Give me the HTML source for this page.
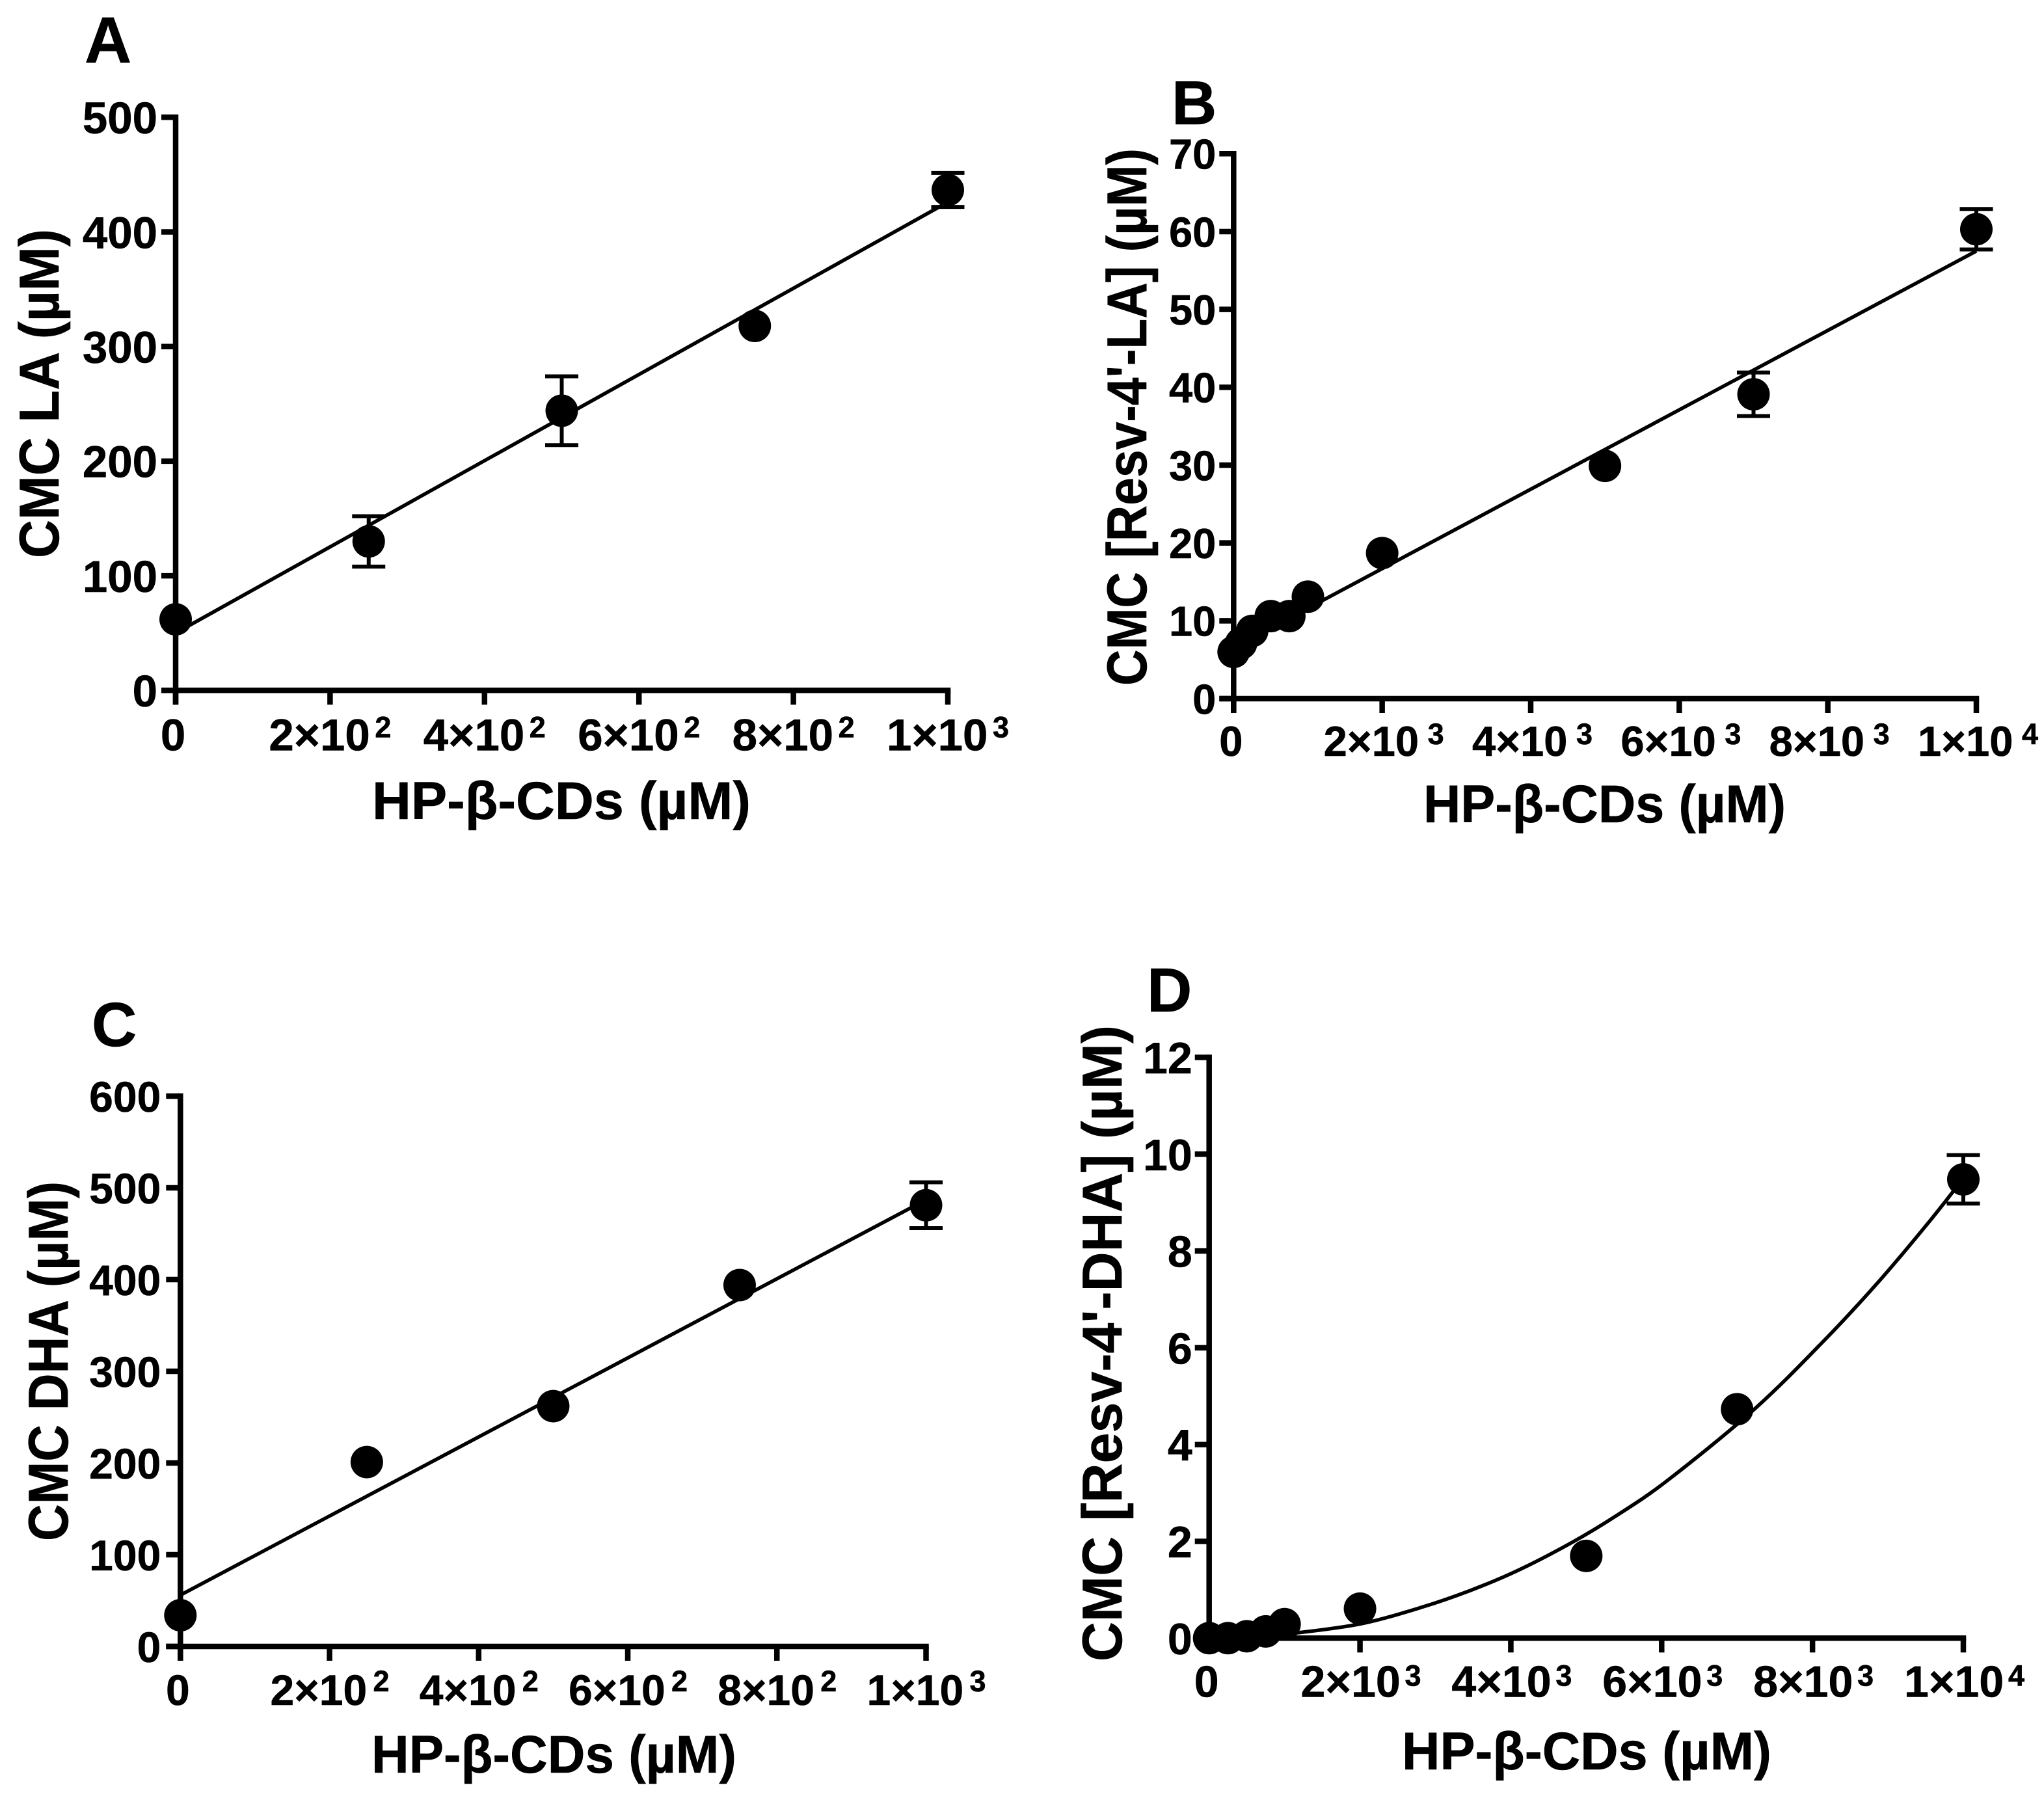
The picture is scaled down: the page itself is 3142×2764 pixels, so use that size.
<!DOCTYPE html>
<html lang="en">
<head>
<meta charset="utf-8">
<title>CMC versus HP-β-CDs concentration</title>
<style>
  html, body { margin: 0; padding: 0; background: #fff; }
  svg { display: block; }
  text { font-family: "Liberation Sans", Arial, sans-serif; font-weight: bold; fill: #000; stroke: #000; stroke-width: 0.6px; }
  .title { font-size: 82px; }
  .ytitle { font-size: 86px; }
</style>
</head>
<body>
<svg id="figure" xmlns="http://www.w3.org/2000/svg" width="3142" height="2764" viewBox="0 0 3142 2764">
  <rect x="0" y="0" width="3142" height="2764" fill="#fff"/>

  <g id="panel-a">
    <text x="130" y="96" font-size="100">A</text>
    <text class="ytitle" transform="translate(90 858) rotate(-90)" textLength="506" lengthAdjust="spacingAndGlyphs">CMC LA (µM)</text>
    <text class="title" x="572" y="1259" textLength="582" lengthAdjust="spacingAndGlyphs">HP-β-CDs (µM)</text>
  </g>

  <g id="panel-b">
    <text x="1801" y="191" font-size="96">B</text>
    <text class="ytitle" transform="translate(1762 1054) rotate(-90)" textLength="826" lengthAdjust="spacingAndGlyphs">CMC [Resv-4'-LA] (µM)</text>
    <text class="title" x="2188" y="1264" textLength="557" lengthAdjust="spacingAndGlyphs">HP-β-CDs (µM)</text>
  </g>

  <g id="panel-c">
    <text x="141" y="1608" font-size="96">C</text>
    <text class="ytitle" transform="translate(104 2369) rotate(-90)" textLength="553" lengthAdjust="spacingAndGlyphs">CMC DHA (µM)</text>
    <text class="title" x="571" y="2725" textLength="561" lengthAdjust="spacingAndGlyphs">HP-β-CDs (µM)</text>
  </g>

  <g id="panel-d">
    <text x="1763" y="1555" font-size="96">D</text>
    <text class="ytitle" transform="translate(1724 2554) rotate(-90)" textLength="978" lengthAdjust="spacingAndGlyphs">CMC [Resv-4'-DHA] (µM)</text>
    <text class="title" x="2155" y="2720" textLength="568" lengthAdjust="spacingAndGlyphs">HP-β-CDs (µM)</text>
  </g>
</svg>

<script>
// ---------- Panel A data ----------
const aX = [0, 250, 500, 750, 1000];
const aY = [62, 130, 244, 318, 436.6];
const aErr = [0, 22, 30, 0, 14.8];
const aFitX = [0, 1000];
const aFitY = [50, 426];
const aXTicks = [0, 200, 400, 600, 800, 1000];
const aXTickText = ['0', '2×10', '4×10', '6×10', '8×10', '1×10'];
const aXTickExp = ['', '2', '2', '2', '2', '3'];
const aYTicks = [0, 100, 200, 300, 400, 500];

// ---------- Panel B data ----------
const bX = [0, 100, 250, 500, 750, 1000, 2000, 5000, 7000, 10000];
const bY = [6, 7.1, 8.7, 10.6, 10.6, 13.1, 18.7, 29.9, 39.1, 60.3];
const bErr = [0, 0, 0, 0, 0, 0, 0, 0, 2.8, 2.6];
const bFitX = [0, 10000];
const bFitY = [6.5, 57.5];
const bXTicks = [0, 2000, 4000, 6000, 8000, 10000];
const bXTickText = ['0', '2×10', '4×10', '6×10', '8×10', '1×10'];
const bXTickExp = ['', '3', '3', '3', '3', '4'];
const bYTicks = [0, 10, 20, 30, 40, 50, 60, 70];

// ---------- Panel C data ----------
const cX = [0, 250, 500, 750, 1000];
const cY = [34, 201, 262, 394, 481];
const cErr = [0, 0, 0, 0, 25];
const cFitX = [0, 1000];
const cFitY = [56, 487];
const cXTicks = [0, 200, 400, 600, 800, 1000];
const cXTickText = ['0', '2×10', '4×10', '6×10', '8×10', '1×10'];
const cXTickExp = ['', '2', '2', '2', '2', '3'];
const cYTicks = [0, 100, 200, 300, 400, 500, 600];

// ---------- Panel D data ----------
const dX = [0, 250, 500, 750, 1000, 2000, 5000, 7000, 10000];
const dY = [0, 0, 0.04, 0.14, 0.29, 0.61, 1.7, 4.73, 9.48];
const dErr = [0, 0, 0, 0, 0, 0, 0, 0, 0.5];
const dFitX = [0, 600, 1219, 2024, 2800, 3462, 4094, 4813, 5388, 6078, 7228, 8148, 8868, 9529, 10000];
const dFitY = [0, 0.03, 0.12, 0.30, 0.63, 0.985, 1.40, 1.98, 2.52, 3.26, 4.73, 6.14, 7.35, 8.57, 9.5];
const dXTicks = [0, 2000, 4000, 6000, 8000, 10000];
const dXTickText = ['0', '2×10', '4×10', '6×10', '8×10', '1×10'];
const dXTickExp = ['', '3', '3', '3', '3', '4'];
const dYTicks = [0, 2, 4, 6, 8, 10, 12];

const SVG_NS = 'http://www.w3.org/2000/svg';

function shape(parent, tag, attrs) {
  const el = document.createElementNS(SVG_NS, tag);
  for (const k in attrs) el.setAttribute(k, attrs[k]);
  parent.appendChild(el);
  return el;
}

function smoothPath(pts) {
  let d = 'M' + pts[0][0] + ' ' + pts[0][1];
  for (let i = 0; i < pts.length - 1; i++) {
    const p0 = pts[Math.max(0, i - 1)];
    const p1 = pts[i];
    const p2 = pts[i + 1];
    const p3 = pts[Math.min(pts.length - 1, i + 2)];
    const c1x = p1[0] + (p2[0] - p0[0]) / 6;
    const c1y = p1[1] + (p2[1] - p0[1]) / 6;
    const c2x = p2[0] - (p3[0] - p1[0]) / 6;
    const c2y = p2[1] - (p3[1] - p1[1]) / 6;
    d += ' C' + c1x + ' ' + c1y + ' ' + c2x + ' ' + c2y + ' ' + p2[0] + ' ' + p2[1];
  }
  return d;
}

function drawPanel(p) {
  const g = document.getElementById(p.id);
  const sx = v => p.x0 + (v - p.xMin) / (p.xMax - p.xMin) * (p.x1 - p.x0);
  const sy = v => p.y0 - (v - p.yMin) / (p.yMax - p.yMin) * (p.y0 - p.y1);
  const axisWidth = 8.5;
  const tickLen = 22;

  // axes
  const yAxis = shape(g, 'line', { x1: p.x0, x2: p.x0, y1: p.y1 - axisWidth / 2, y2: p.y0 + tickLen, stroke: '#000', 'stroke-width': axisWidth });
  
  
  const xAxis = shape(g, 'line', { x1: p.x0 - tickLen, x2: p.x1 + axisWidth / 2, y1: p.y0, y2: p.y0, stroke: '#000', 'stroke-width': axisWidth });
  
  

  // y ticks
  p.yTicks.forEach(v => {
    const t = shape(g, 'line', { x1: p.x0 - tickLen, x2: p.x0, y1: sy(v), y2: sy(v), stroke: '#000', 'stroke-width': axisWidth });
    
    
    const l = shape(g, 'text', { x: p.x0 - p.yLabelGap, y: sy(v) + p.tickFont * 0.36, 'text-anchor': 'end', 'font-size': p.tickFont });
    l.textContent = String(v);
    
    
  });

  // x ticks
  p.xTicks.forEach((v, i) => {
    const t = shape(g, 'line', { x1: sx(v), x2: sx(v), y1: p.y0, y2: p.y0 + tickLen, stroke: '#000', 'stroke-width': axisWidth });
    
    
    const exp = p.xTickExp[i];
    const l = shape(g, 'text', {
      x: exp ? sx(v) - p.xLabelLead : sx(v) - 4,
      y: p.y0 + p.xLabelDrop,
      'text-anchor': exp ? 'start' : 'middle',
      'font-size': p.tickFont
    });
    l.textContent = p.xTickText[i];
    
    
    if (exp) {
      const s = shape(g, 'text', { x: sx(v) + p.expLead, y: p.y0 + p.xLabelDrop - p.expRise, 'font-size': 45 });
      s.textContent = exp;
      
      
    }
  });

  // fit line
  const pts = p.fitX.map((v, i) => [sx(v), sy(p.fitY[i])]);
  const fit = shape(g, 'path', { d: smoothPath(pts), fill: 'none', stroke: '#000', 'stroke-width': 5.5 });
  
  

  // error bars and points
  p.xs.forEach((v, i) => {
    const e = p.err[i];
    if (e > 0) {
      const d = 'M' + sx(v) + ' ' + sy(p.ys[i] - e) + ' V' + sy(p.ys[i] + e) +
        ' M' + (sx(v) - 25.5) + ' ' + sy(p.ys[i] + e) + ' H' + (sx(v) + 25.5) +
        ' M' + (sx(v) - 25.5) + ' ' + sy(p.ys[i] - e) + ' H' + (sx(v) + 25.5);
      const bar = shape(g, 'path', { d: d, fill: 'none', stroke: '#000', 'stroke-width': 6 });
      
      
    }
    const c = shape(g, 'circle', { cx: sx(v), cy: sy(p.ys[i]), r: 25, fill: '#000' });
    
    
  });
}

drawPanel({
  id: 'panel-a', x0: 270, x1: 1457, y0: 1061.3, y1: 180.3,
  xMin: 0, xMax: 1000, yMin: 0, yMax: 500,
  xs: aX, ys: aY, err: aErr, fitX: aFitX, fitY: aFitY,
  xTicks: aXTicks, xTickText: aXTickText, xTickExp: aXTickExp, yTicks: aYTicks,
  tickFont: 69, yLabelGap: 28, xLabelDrop: 92, xLabelLead: 94, expLead: 69, expRise: 20
});
drawPanel({
  id: 'panel-b', x0: 1896.3, x1: 3038, y0: 1074, y1: 236.3,
  xMin: 0, xMax: 10000, yMin: 0, yMax: 70,
  xs: bX, ys: bY, err: bErr, fitX: bFitX, fitY: bFitY,
  xTicks: bXTicks, xTickText: bXTickText, xTickExp: bXTickExp, yTicks: bYTicks,
  tickFont: 65, yLabelGap: 27, xLabelDrop: 88, xLabelLead: 90, expLead: 70, expRise: 18
});
drawPanel({
  id: 'panel-c', x0: 277.3, x1: 1423.5, y0: 2531, y1: 1685,
  xMin: 0, xMax: 1000, yMin: 0, yMax: 600,
  xs: cX, ys: cY, err: cErr, fitX: cFitX, fitY: cFitY,
  xTicks: cXTicks, xTickText: cXTickText, xTickExp: cXTickExp, yTicks: cYTicks,
  tickFont: 66, yLabelGap: 30, xLabelDrop: 90, xLabelLead: 91, expLead: 67, expRise: 21
});
drawPanel({
  id: 'panel-d', x0: 1858.7, x1: 3018, y0: 2518.3, y1: 1625.5,
  xMin: 0, xMax: 10000, yMin: 0, yMax: 12,
  xs: dX, ys: dY, err: dErr, fitX: dFitX, fitY: dFitY,
  xTicks: dXTicks, xTickText: dXTickText, xTickExp: dXTickExp, yTicks: dYTicks,
  tickFont: 68, yLabelGap: 26, xLabelDrop: 90, xLabelLead: 91, expLead: 69, expRise: 17
});
</script>
</body>
</html>
